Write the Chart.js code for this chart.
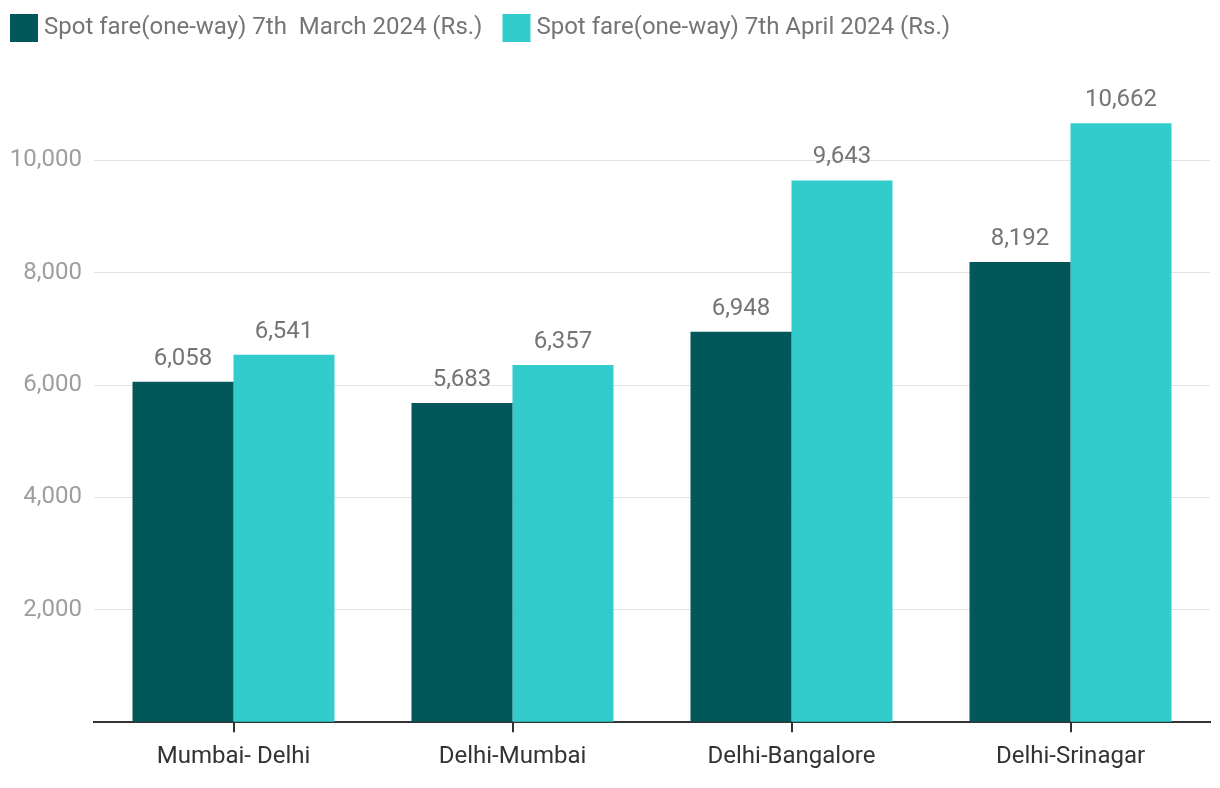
<!DOCTYPE html>
<html>
<head>
<meta charset="utf-8">
<script src="https://cdn.jsdelivr.net/npm/chart.js@4/dist/chart.umd.min.js"></script>
<style>
html,body{margin:0;padding:0;background:#fff;}
#wrap{width:1220px;height:788px;}
</style>
</head>
<body>
<div id="wrap"><canvas id="c" width="1220" height="788"></canvas></div>
<script>
const categories = ["Mumbai- Delhi", "Delhi-Mumbai", "Delhi-Bangalore", "Delhi-Srinagar"];
const seriesNames = ["Spot fare(one-way) 7th  March 2024 (Rs.)", "Spot fare(one-way) 7th April 2024 (Rs.)"];
const marchFares = [6058, 5683, 6948, 8192];
const aprilFares = [6541, 6357, 9643, 10662];
const yTicks = [2000, 4000, 6000, 8000, 10000];
const seriesColors = ["#02575A", "#33CCCC"];

const FONT = "Roboto";
const fmt = v => v.toLocaleString("en-US");

function swatch(color) {
  const cv = document.createElement("canvas");
  cv.width = 56; cv.height = 28;
  const c = cv.getContext("2d");
  c.fillStyle = color;
  c.fillRect(17, 0, 28, 28);
  return cv;
}
const swatches = seriesColors.map(swatch);

const dataLabels = {
  id: "dataLabels",
  afterDatasetsDraw(chart) {
    const ctx = chart.ctx;
    ctx.save();
    ctx.font = "24px " + FONT;
    ctx.fillStyle = "#757575";
    ctx.textAlign = "center";
    ctx.textBaseline = "bottom";
    chart.data.datasets.forEach((ds, i) => {
      chart.getDatasetMeta(i).data.forEach((el, j) => {
        ctx.fillText(fmt(ds.data[j]), el.x, el.y - 11);
      });
    });
    ctx.restore();
  }
};

const legendTweak = {
  id: "legendTweak",
  beforeLayout(chart) {
    const lg = chart.legend;
    if (lg && !lg._tweaked) {
      const orig = lg.fit.bind(lg);
      lg.fit = function () { orig(); this.height -= 6; };
      lg._tweaked = true;
    }
  },
  afterLayout(chart) {
    if (chart.legend) { chart.legend.left -= 20; chart.legend.top -= 4; }
  }
};

new Chart(document.getElementById("c"), {
  type: "bar",
  data: {
    labels: categories,
    datasets: [
      { label: seriesNames[0], data: marchFares, backgroundColor: seriesColors[0], categoryPercentage: 0.724, barPercentage: 1.0 },
      { label: seriesNames[1], data: aprilFares, backgroundColor: seriesColors[1], categoryPercentage: 0.724, barPercentage: 1.0 }
    ]
  },
  options: {
    responsive: false,
    animation: false,
    layout: { padding: { left: 10, right: 10, top: 0, bottom: 7 } },
    plugins: {
      tooltip: { enabled: false },
      legend: {
        position: "top",
        align: "start",
        labels: {
          usePointStyle: true,
          pointStyleWidth: 22,
          boxHeight: 24,
          padding: 20,
          color: "#757575",
          font: { family: FONT, size: 24 },
          generateLabels: chart => Chart.defaults.plugins.legend.labels.generateLabels(chart)
            .map((it, i) => Object.assign(it, { pointStyle: swatches[i] }))
        }
      }
    },
    scales: {
      x: {
        grid: { display: true, drawOnChartArea: false, drawTicks: true, tickLength: 10, offset: false, color: "#333", lineWidth: 2 },
        border: { display: true, color: "#333", width: 2 },
        ticks: { color: "#333", font: { family: FONT, size: 24 }, padding: 10 }
      },
      y: {
        min: 0, max: 12000,
        border: { display: false },
        afterFit: axis => { axis.width = 84; },
        grid: {
          drawTicks: false,
          color: ctx => (ctx.tick && (ctx.tick.value === 12000 || ctx.tick.value === 0)) ? "rgba(0,0,0,0)" : "#e3e3e3",
          lineWidth: 1
        },
        afterBuildTicks: axis => { axis.ticks = [0].concat(yTicks).concat([12000]).map(v => ({ value: v })); },
        ticks: {
          color: "#9e9e9e",
          font: { family: FONT, size: 24 },
          padding: 12,
          callback: v => yTicks.includes(v) ? fmt(v) : ""
        }
      }
    }
  },
  plugins: [dataLabels, legendTweak]
});
</script>
</body>
</html>
